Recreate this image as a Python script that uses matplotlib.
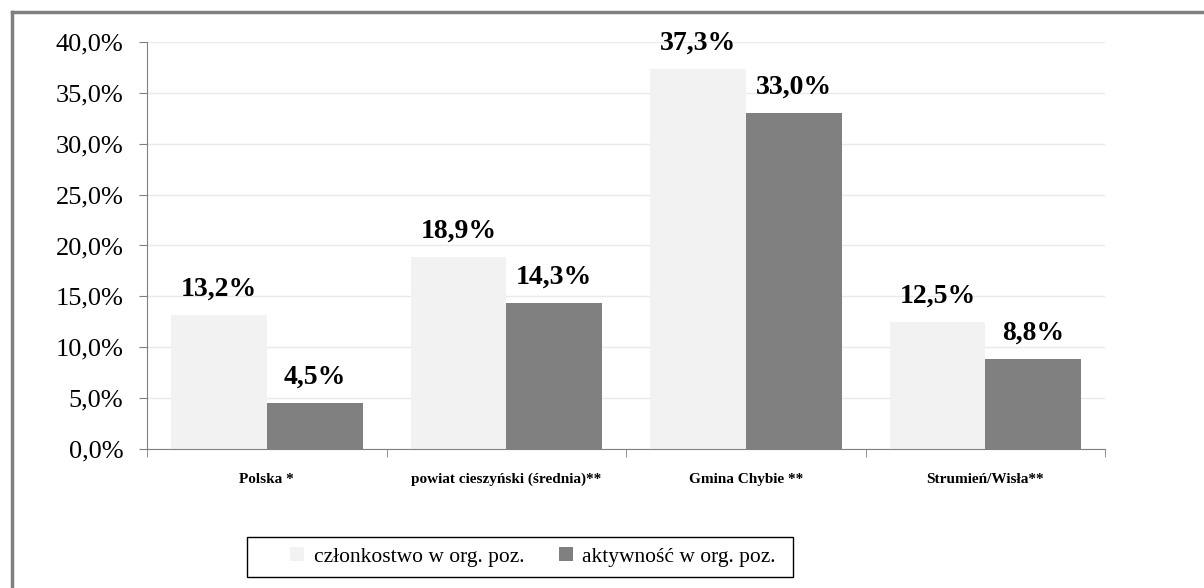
import matplotlib.pyplot as plt
import numpy as np
from matplotlib.lines import Line2D
from matplotlib.patches import Rectangle

categories = ["Polska *", "powiat cieszyński (średnia)**", "Gmina Chybie **", "Strumień/Wisła**"]
czlonkostwo = [13.2, 18.9, 37.3, 12.5]
aktywnosc = [4.5, 14.3, 33.0, 8.8]
series_names = ["członkostwo w org. poz.", "aktywność w org. poz."]

plt.rcParams['font.family'] = ['Liberation Serif', 'DejaVu Serif']

fig = plt.figure(figsize=(12.04, 5.88), dpi=100)
ax = fig.add_axes([0.1221, 0.2364, 0.7959, 0.6922])

x = np.arange(len(categories))
w = 0.4
b1 = ax.bar(x - w / 2, czlonkostwo, w, color="#f2f2f2", label=series_names[0], zorder=2)
b2 = ax.bar(x + w / 2, aktywnosc, w, color="#808080", label=series_names[1], zorder=2)

for bars, vals in ((b1, czlonkostwo), (b2, aktywnosc)):
    for r, v in zip(bars, vals):
        ax.annotate(f"{v:.1f}%".replace(".", ","), (r.get_x() + r.get_width() / 2, v),
                    xytext=(0, 14), textcoords="offset points",
                    ha="center", va="baseline", fontsize=20, fontweight="bold",
                    annotation_clip=False)

ax.set_xlim(-0.5, len(categories) - 0.5)
ax.set_ylim(0, 40)
ticks = np.arange(0, 41, 5)
ax.set_yticks(ticks)
ax.set_yticklabels([f"{t:.1f}%".replace(".", ",") for t in ticks], fontsize=19)
ax.yaxis.grid(True, color="#e8eaee", linewidth=1, zorder=0)
ax.set_axisbelow(True)

ax.set_xticks(x)
ax.set_xticklabels(categories, fontsize=11, fontweight="bold")
ax.tick_params(axis="x", length=0, pad=17)
ax.set_xticks(np.arange(-0.5, len(categories)), minor=True)
ax.tick_params(axis="x", which="minor", length=6, color="#808080", direction="out")
ax.tick_params(axis="y", length=6, color="#808080", pad=11)

for s in ("top", "right"):
    ax.spines[s].set_visible(False)
for s in ("left", "bottom"):
    ax.spines[s].set_color("#808080")

# legend frame drawn separately so it can be wider than its content
fig.add_artist(Rectangle((247 / 1204, 11 / 588), 546 / 1204, 40 / 588, transform=fig.transFigure,
                         facecolor="white", edgecolor="black", linewidth=1))
leg = fig.legend(loc="center left", bbox_to_anchor=(290 / 1204, 31 / 588),
                 ncol=2, fontsize=15.5, frameon=False,
                 handlelength=0.65, handleheight=0.65, handletextpad=0.45, borderaxespad=0,
                 borderpad=0, columnspacing=1.6)

# chart area border (left and top)
fig.add_artist(Line2D([12 / 1204, 12 / 1204], [0, 1 - 12 / 588], transform=fig.transFigure,
                      color="#808080", linewidth=2.5))
fig.add_artist(Line2D([12 / 1204, 1], [1 - 12 / 588, 1 - 12 / 588], transform=fig.transFigure,
                      color="#808080", linewidth=2.5))

fig.savefig("out.png", dpi=100)
